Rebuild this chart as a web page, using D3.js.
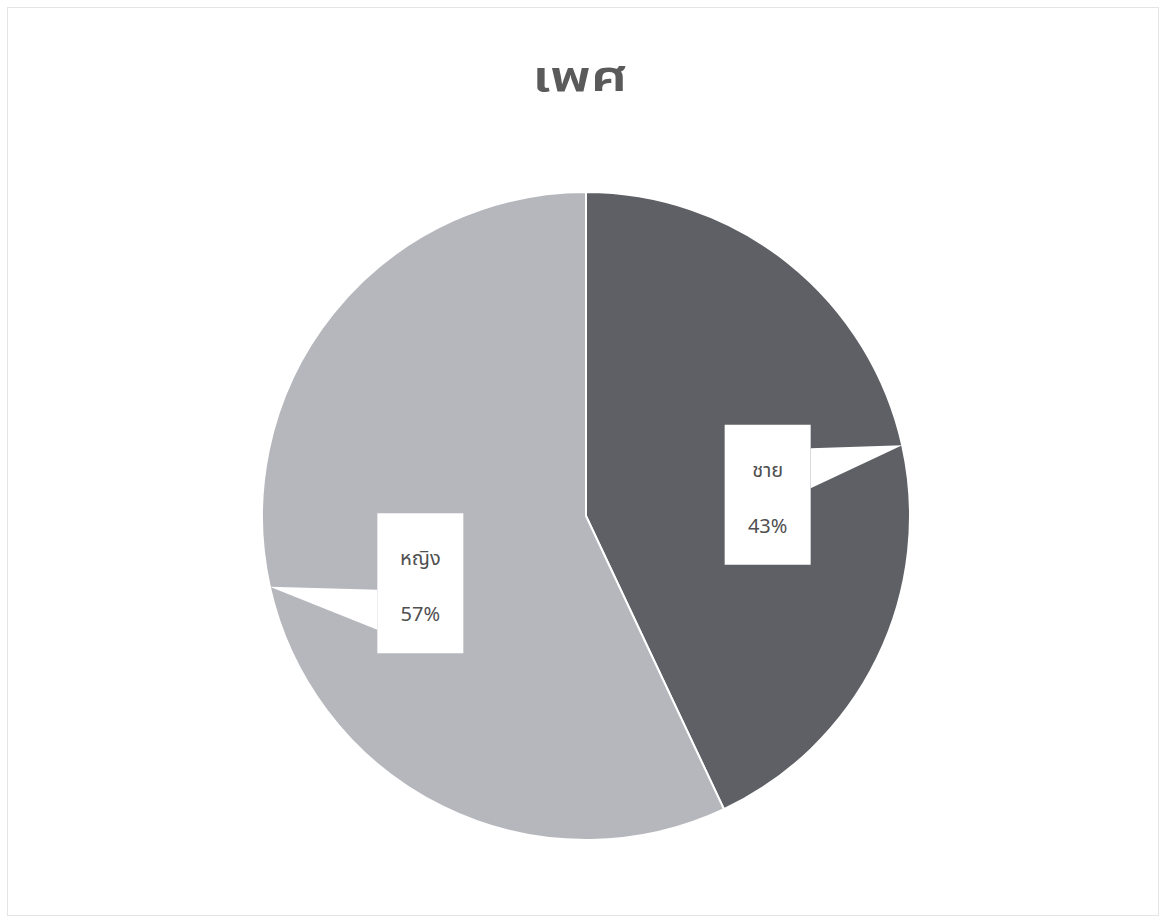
<!DOCTYPE html>
<head>
<meta charset="utf-8">
<script src="https://d3js.org/d3.v7.min.js"></script>
<style>
body {
  margin: 0;
  background: white;
  font-family: "Noto Sans Thai", "Leelawadee UI", "Tahoma", "DejaVu Sans", sans-serif;
}
.slice {
  stroke: white;
  stroke-width: 2;
}
.lbl {
  font-size: 20px;
  fill: #505050;
  text-anchor: middle;
}
</style>
</head>
<body>
<div id="chart"></div>
<script>

var title = "เพศ";
var categories = ["ชาย", "หญิง"];
var values = [43, 57];
var colours = ["#5e6065", "#b6b7bd"];

var width = 1163, height = 918;
var cx = 586, cy = 516, radius = 324;

var svg = d3.select("#chart")
    .append("svg")
    .attr("width", width)
    .attr("height", height);

// faint chart frame like the scan
svg.append("rect")
    .attr("x", 7.5).attr("y", 7.5)
    .attr("width", width - 12).attr("height", height - 10)
    .attr("fill", "none")
    .attr("stroke", "#e4e4e8")
    .attr("stroke-width", 1);

// title, stretched a bit wider to match the scan's font
svg.append("text")
    .attr("transform", "translate(580,91) scale(1.33,1)")
    .attr("text-anchor", "middle")
    .attr("font-size", 43)
    .attr("font-weight", 600)
    .attr("fill", "#5a5a5a")
    .text(title);

var data = categories.map(function(c, i) { return {cat: c, val: values[i], col: colours[i]}; });

var pie = d3.pie()
    .sort(null)
    .value(function(d) { return d.val; });

var arc = d3.arc()
    .innerRadius(0)
    .outerRadius(radius);

var g = svg.append("g")
    .attr("transform", "translate(" + cx + "," + cy + ")");

var arcs = pie(data);

g.selectAll("path.slice")
    .data(arcs)
    .enter()
    .append("path")
    .attr("class", "slice")
    .attr("d", arc)
    .attr("fill", function(d) { return d.data.col; });

// callout labels
var boxW = 86, boxH = 140;

arcs.forEach(function(d) {
    var mid = (d.startAngle + d.endAngle) / 2;
    var tipX = radius * Math.sin(mid), tipY = -radius * Math.cos(mid);
    var lx = 180 * Math.sin(mid) + (tipX > 0 ? 6 : 10);
    var ly = -180 * Math.cos(mid) + (tipX > 0 ? 18 : 28);

    var bx0 = lx - boxW / 2, bx1 = lx + boxW / 2;
    var by0 = ly - boxH / 2, by1 = ly + boxH / 2;
    var side = tipX > 0 ? bx1 : bx0;
    var b0 = Math.max(by0 + 4, tipY + 3), b1 = Math.min(by1 - 4, b0 + 40);

    var lg = g.append("g");
    lg.append("path")
        .attr("fill", "white")
        .attr("d", "M" + side + "," + b0 + "L" + tipX + "," + tipY + "L" + side + "," + b1 + "Z");
    lg.append("rect")
        .attr("x", bx0).attr("y", by0)
        .attr("width", boxW).attr("height", boxH)
        .attr("fill", "white");
    lg.append("text")
        .attr("class", "lbl")
        .attr("x", lx).attr("y", ly - 18)
        .text(d.data.cat);
    lg.append("text")
        .attr("class", "lbl")
        .attr("x", lx).attr("y", ly + 38)
        .text(d.data.val + "%");
});

</script>
</body>
